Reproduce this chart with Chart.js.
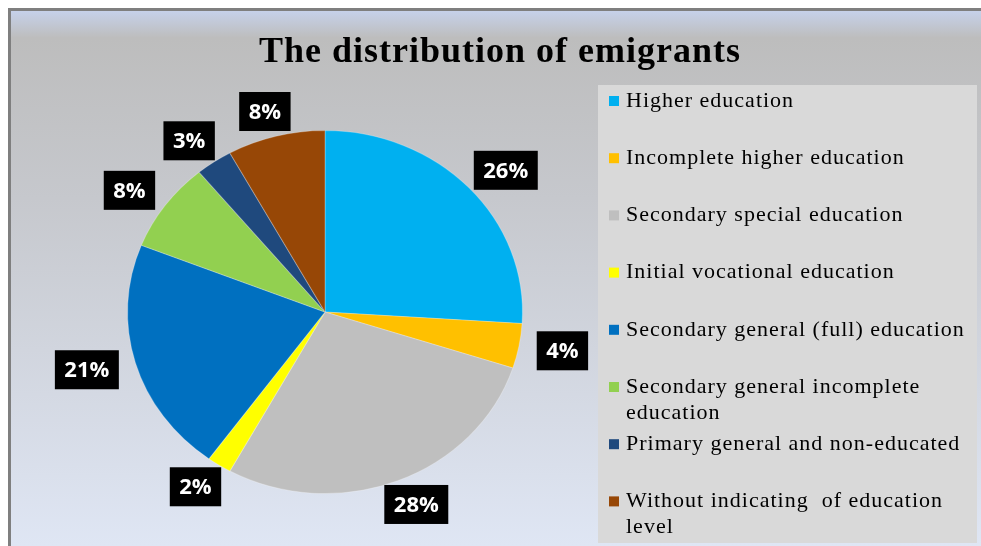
<!DOCTYPE html>
<html>
<head>
<meta charset="utf-8">
<script src="https://cdn.jsdelivr.net/npm/chart.js@4.4.0/dist/chart.umd.min.js"></script>
<style>
  html, body { margin: 0; padding: 0; background: #ffffff; }
  #myChart { display: block; }
</style>
</head>
<body>
<canvas id="myChart" width="981" height="546"></canvas>
<script>
// données du graphique
const titre = 'The distribution of emigrants';
const categories = [
  'Higher education',
  'Incomplete higher education',
  'Secondary special education',
  'Initial vocational education',
  'Secondary general (full) education',
  'Secondary general incomplete education',
  'Primary general and non-educated',
  'Without indicating  of education level'
];
const valeurs = [26, 4, 28, 2, 21, 8, 3, 8];
const couleurs = ['#00b0f0', '#ffc000', '#bfbfbf', '#ffff00', '#0070c0', '#92d050', '#1f497d', '#974706'];

// l'image d'origine est étirée horizontalement : camembert en ellipse
const etirement = 1.088;

// fond dégradé + cadre + boîte de légende
const fondPlugin = {
  id: 'fond',
  beforeDraw(chart) {
    const ctx = chart.ctx;
    const w = chart.width, h = chart.height;
    ctx.save();
    ctx.fillStyle = '#ffffff';
    ctx.fillRect(0, 0, w, h);
    ctx.fillStyle = '#7f7f7f';
    ctx.fillRect(8, 8, w - 8, 3);
    ctx.fillRect(8, 8, 3, h - 8);
    const grad = ctx.createLinearGradient(0, 11, 0, h);
    grad.addColorStop(0, '#c6d1ea');
    grad.addColorStop(0.05, '#bdbdbd');
    grad.addColorStop(0.35, '#c6c8cd');
    grad.addColorStop(1, '#dfe6f4');
    ctx.fillStyle = grad;
    ctx.fillRect(11, 11, w - 11, h - 11);
    ctx.fillStyle = '#d9d9d9';
    ctx.fillRect(598, 85, 379, h - 88);
    ctx.restore();
  },
  afterDraw(chart) {
    const ctx = chart.ctx;
    ctx.save();
    // titre
    ctx.fillStyle = '#000000';
    ctx.font = 'bold 36px "Liberation Serif", "Times New Roman", serif';
    ctx.letterSpacing = '1px';
    ctx.textAlign = 'center';
    ctx.textBaseline = 'alphabetic';
    ctx.fillText(titre, 500, 62);

    // légende
    ctx.font = '22px "Liberation Serif", "Times New Roman", serif';
    ctx.letterSpacing = '1px';
    ctx.textAlign = 'left';
    ctx.textBaseline = 'middle';
    const maxW = 348;
    chart.data.labels.forEach((label, i) => {
      const y = 101 + i * 57.2;
      ctx.fillStyle = chart.data.datasets[0].backgroundColor[i];
      ctx.fillRect(609, y - 5, 10, 10);
      ctx.fillStyle = '#000000';
      // découpage en lignes
      const mots = label.split(' ');
      let lignes = [];
      let ligne = '';
      mots.forEach(m => {
        const essai = ligne ? ligne + ' ' + m : m;
        if (ctx.measureText(essai).width > maxW && ligne) {
          lignes.push(ligne);
          ligne = m;
        } else {
          ligne = essai;
        }
      });
      lignes.push(ligne);
      lignes.forEach((l, k) => ctx.fillText(l, 626, y + k * 26));
    });
    ctx.restore();

    // étiquettes de pourcentage dans des boîtes noires
    const meta = chart.getDatasetMeta(0);
    ctx.save();
    ctx.font = 'bold 22px "Open Sans", sans-serif';
    ctx.textAlign = 'center';
    ctx.textBaseline = 'middle';
    meta.data.forEach((arc, i) => {
      const p = arc.getProps(['x', 'y', 'startAngle', 'endAngle', 'outerRadius'], true);
      const a = (p.startAngle + p.endAngle) / 2;
      const dx = Math.cos(a), dy = Math.sin(a);
      const texte = valeurs[i] + '%';
      const bw = ctx.measureText(texte).width + 19;
      const bh = 39;
      const r = p.outerRadius + 6;
      const cx = p.x + dx * (r * etirement + 12) + dx * bw / 2;
      const cy = p.y + dy * r + dy * bh / 2;
      ctx.fillStyle = '#000000';
      ctx.fillRect(cx - bw / 2, cy - bh / 2, bw, bh);
      ctx.fillStyle = '#ffffff';
      ctx.fillText(texte, cx, cy + 1);
    });
    ctx.restore();
  }
};

// étirement horizontal du camembert autour de son centre
const ellipsePlugin = {
  id: 'ellipse',
  beforeDatasetsDraw(chart) {
    const a = chart.chartArea;
    const cx = (a.left + a.right) / 2;
    chart.ctx.save();
    chart.ctx.translate(cx, 0);
    chart.ctx.scale(etirement, 1);
    chart.ctx.translate(-cx, 0);
  },
  afterDatasetsDraw(chart) {
    chart.ctx.restore();
  }
};

const ctx = document.getElementById('myChart').getContext('2d');
const myChart = new Chart(ctx, {
  type: 'pie',
  data: {
    labels: categories,
    datasets: [{
      data: valeurs,
      backgroundColor: couleurs,
      borderColor: 'rgba(255,255,255,0.25)',
      borderWidth: 1,
      clip: false
    }]
  },
  options: {
    responsive: false,
    animation: false,
    layout: {
      padding: { left: 143, right: 474, top: 130, bottom: 52 }
    },
    plugins: {
      legend: { display: false },
      title: { display: false },
      tooltip: { enabled: false }
    }
  },
  plugins: [fondPlugin, ellipsePlugin]
});
</script>
</body>
</html>
